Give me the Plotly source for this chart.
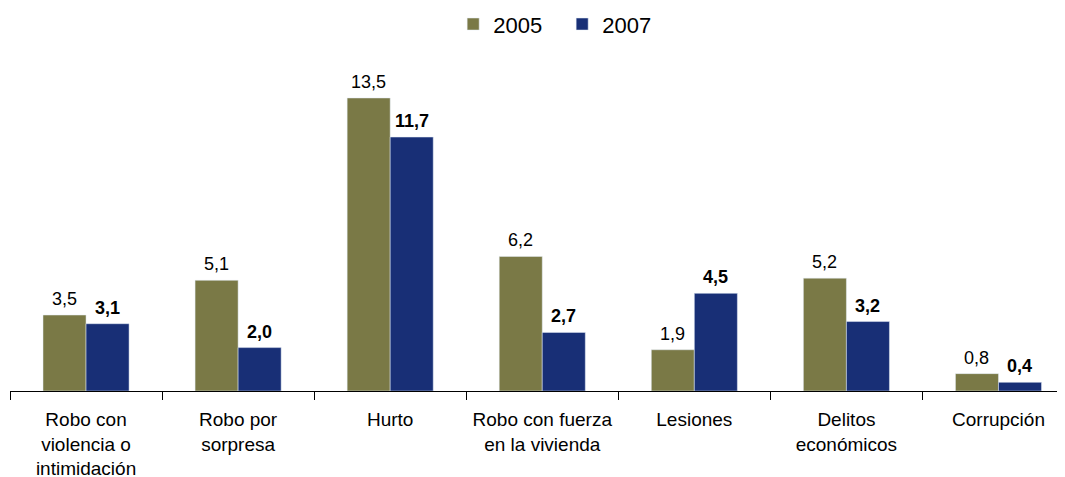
import plotly.graph_objects as go

categorias = ["Robo con<br>violencia o<br>intimidación", "Robo por<br>sorpresa", "Hurto",
              "Robo con fuerza<br>en la vivienda", "Lesiones", "Delitos<br>económicos", "Corrupción"]
valores_2005 = [3.5, 5.1, 13.5, 6.2, 1.9, 5.2, 0.8]
valores_2007 = [3.1, 2.0, 11.7, 2.7, 4.5, 3.2, 0.4]

color_2005 = "#7a7946"
color_2007 = "#182f76"
fuente = "Liberation Sans, Arial, sans-serif"

fig = go.Figure()
fig.add_trace(go.Bar(x=categorias, y=valores_2005, name="2005", marker_color=color_2005))
fig.add_trace(go.Bar(x=categorias, y=valores_2007, name="2007", marker_color=color_2007))

def etiqueta(v):
    return f"{v:.1f}".replace(".", ",")

anotaciones = []
for cat, v in zip(categorias, valores_2005):
    anotaciones.append(dict(x=cat, y=v, text=etiqueta(v), xshift=-21.5, yshift=4,
                            showarrow=False, yanchor="bottom", font=dict(size=18, color="#000")))
for cat, v in zip(categorias, valores_2007):
    anotaciones.append(dict(x=cat, y=v, text="<b>" + etiqueta(v) + "</b>", xshift=21.5, yshift=4,
                            showarrow=False, yanchor="bottom", font=dict(size=18, color="#000")))

# la página tiene 8px de margen en el body
fig.update_layout(
    width=1065, height=477,
    margin=dict(l=2, r=0, t=52, b=94, autoexpand=False),
    paper_bgcolor="white", plot_bgcolor="white",
    font=dict(family=fuente, size=19, color="#000"),
    barmode="group", bargap=0.434, bargroupgap=0,
    annotations=anotaciones,
    legend=dict(orientation="h", xref="container", yref="container",
                x=0.418, xanchor="left", y=0.966, yanchor="middle",
                font=dict(size=22), entrywidth=64, entrywidthmode="pixels",
                traceorder="normal"),
    xaxis=dict(range=[-0.5, 6.49], showline=True, linecolor="#000", linewidth=1,
               ticks="outside", tickson="boundaries", ticklen=8, tickcolor="#000",
               tickfont=dict(size=19), ticklabelstandoff=11, showgrid=False),
    yaxis=dict(range=[0, 15.25], visible=False, showgrid=False, zeroline=False),
)

fig.write_html("out.html")
